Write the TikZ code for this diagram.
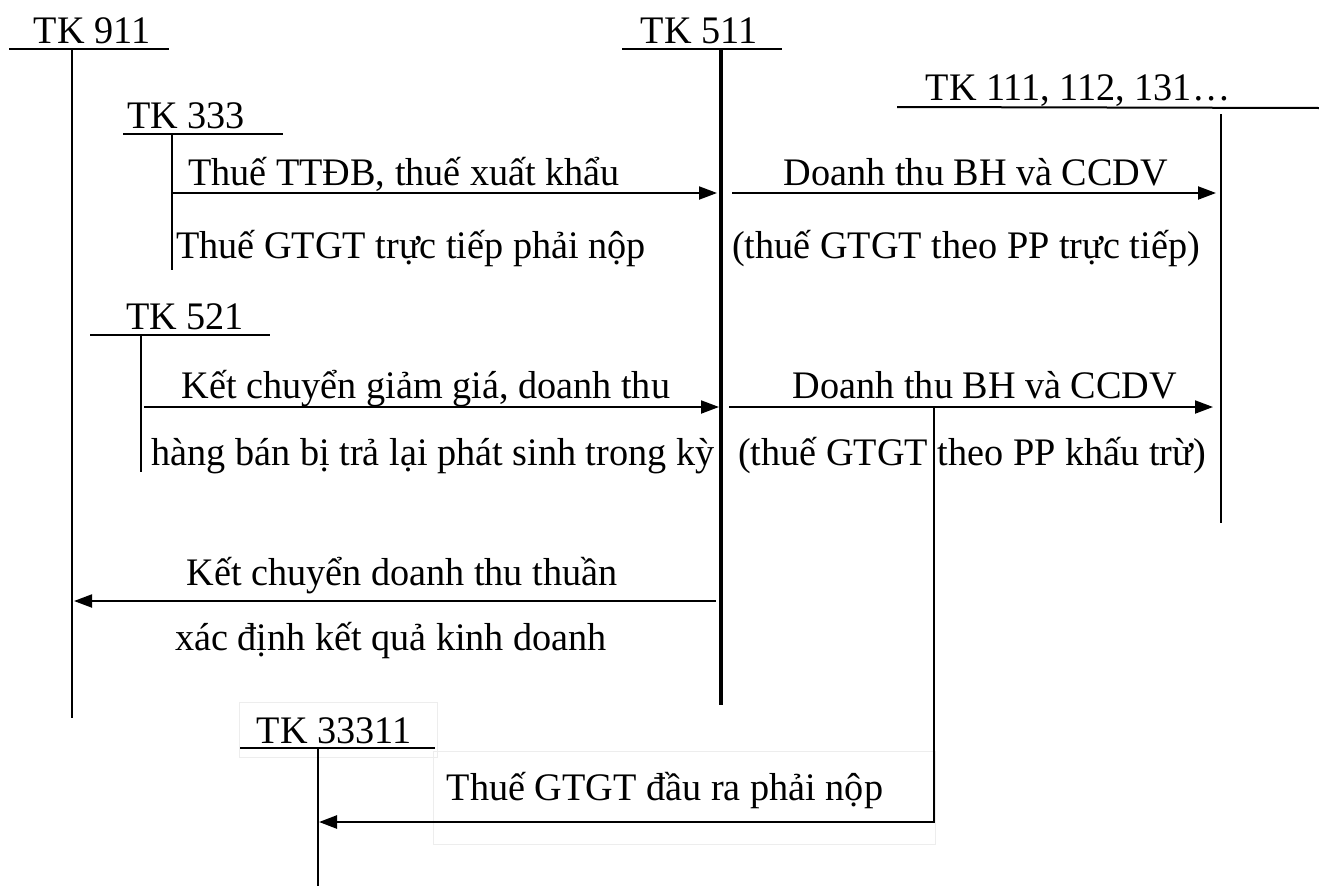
\documentclass[tikz,border=0pt]{standalone}
\usepackage{fontspec}
\setmainfont[FakeStretch=0.98]{Liberation Serif}
\usetikzlibrary{arrows.meta}
\newcommand{\tkfont}{\fontsize{39}{46}\selectfont}
\tikzset{
  lbl/.style={font=\tkfont, inner sep=0pt, anchor=base},
  acct/.style={line width=2pt},
  mainacct/.style={line width=4.5pt},
  flow/.style={line width=2pt, -{Triangle[length=18pt,width=13pt]}},
  faintbox/.style={draw=black!7, line width=1pt}
}
\begin{document}
\begin{tikzpicture}[x=1pt, y=-1pt]
\useasboundingbox (0,0) rectangle (1319,889);

% faint frames of the text boxes
\draw[faintbox] (239,702) rectangle (437,757);
\draw[faintbox] (433,751) rectangle (935,844);

% ---- T accounts ----
% TK 911
\node[lbl] (t911) at (92,43) {TK 911};
\coordinate (a911l) at (9,49);
\coordinate (a911r) at (169,49);
\coordinate (a911t) at (72,49);
\coordinate (a911b) at (72,718);
\draw[acct] (a911l) -- (a911r);
\draw[acct] (a911t) -- (a911b);

% TK 511
\node[lbl] (t511) at (699,43) {TK 511};
\coordinate (a511l) at (622,49);
\coordinate (a511r) at (782,49);
\coordinate (a511t) at (721,49);
\coordinate (a511b) at (721,705);
\draw[acct] (a511l) -- (a511r);
\draw[mainacct] (a511t) -- (a511b);

% TK 111, 112, 131...
\node[lbl] (t111) at (1078,100) {TK 111, 112, 131…};
\coordinate (a111l) at (897,107);
\coordinate (a111r) at (1319,108);
\coordinate (a111t) at (1221,114);
\coordinate (a111b) at (1221,523);
\draw[acct] (a111l) -- (a111r);
\draw[acct] (a111t) -- (a111b);

% TK 333
\node[lbl] (t333) at (186,128) {TK 333};
\coordinate (a333l) at (123,134);
\coordinate (a333r) at (283,134);
\coordinate (a333t) at (172,134);
\coordinate (a333b) at (172,270);
\draw[acct] (a333l) -- (a333r);
\draw[acct] (a333t) -- (a333b);

% TK 521
\node[lbl] (t521) at (185,329) {TK 521};
\coordinate (a521l) at (90,335);
\coordinate (a521r) at (270,335);
\coordinate (a521t) at (141,335);
\coordinate (a521b) at (141,472);
\draw[acct] (a521l) -- (a521r);
\draw[acct] (a521t) -- (a521b);

% TK 33311
\node[lbl] (t33311) at (334,743) {TK 33311};
\coordinate (a3l) at (240,748);
\coordinate (a3r) at (435,748);
\coordinate (a3t) at (318,748);
\coordinate (a3b) at (318,886);
\draw[acct] (a3l) -- (a3r);
\draw[acct] (a3t) -- (a3b);

% ---- flows ----
\coordinate (f1s) at (172,193);
\coordinate (f1e) at (717,193);
\draw[flow] (f1s) -- (f1e);
\node[lbl] (f1a) at (404,185) {Thuế TTĐB, thuế xuất khẩu};
\node[lbl] (f1b) at (411,258) {Thuế GTGT trực tiếp phải nộp};

\coordinate (f2s) at (732,193);
\coordinate (f2e) at (1216,193);
\draw[flow] (f2s) -- (f2e);
\node[lbl] (f2a) at (976,185) {Doanh thu BH và CCDV};
\node[lbl] (f2b) at (966,258) {(thuế GTGT theo PP trực tiếp)};

\coordinate (f3s) at (144,407);
\coordinate (f3e) at (719,407);
\draw[flow] (f3s) -- (f3e);
\node[lbl] (f3a) at (426,398) {Kết chuyển giảm giá, doanh thu};
\node[lbl] (f3b) at (433,465) {hàng bán bị trả lại phát sinh trong kỳ};

\coordinate (f4s) at (729,407);
\coordinate (f4e) at (1213,407);
\draw[flow] (f4s) -- (f4e);
\node[lbl] (f4a) at (985,398) {Doanh thu BH và CCDV};
\node[lbl] (f4b) at (972,465) {(thuế GTGT theo PP khấu trừ)};

\coordinate (f6s) at (716,601);
\coordinate (f6e) at (74,601);
\draw[flow] (f6s) -- (f6e);
\node[lbl] (f6a) at (402,585) {Kết chuyển doanh thu thuần};
\node[lbl] (f6b) at (391,650) {xác định kết quả kinh doanh};

\coordinate (f5s) at (934,407);
\coordinate (f5c) at (934,822);
\coordinate (f5e) at (319,822);
\draw[flow, line width=2.5pt] (f5s) -- (f5c) -- (f5e);
\node[lbl] (f5a) at (665,800) {Thuế GTGT đầu ra phải nộp};
\end{tikzpicture}
\end{document}
